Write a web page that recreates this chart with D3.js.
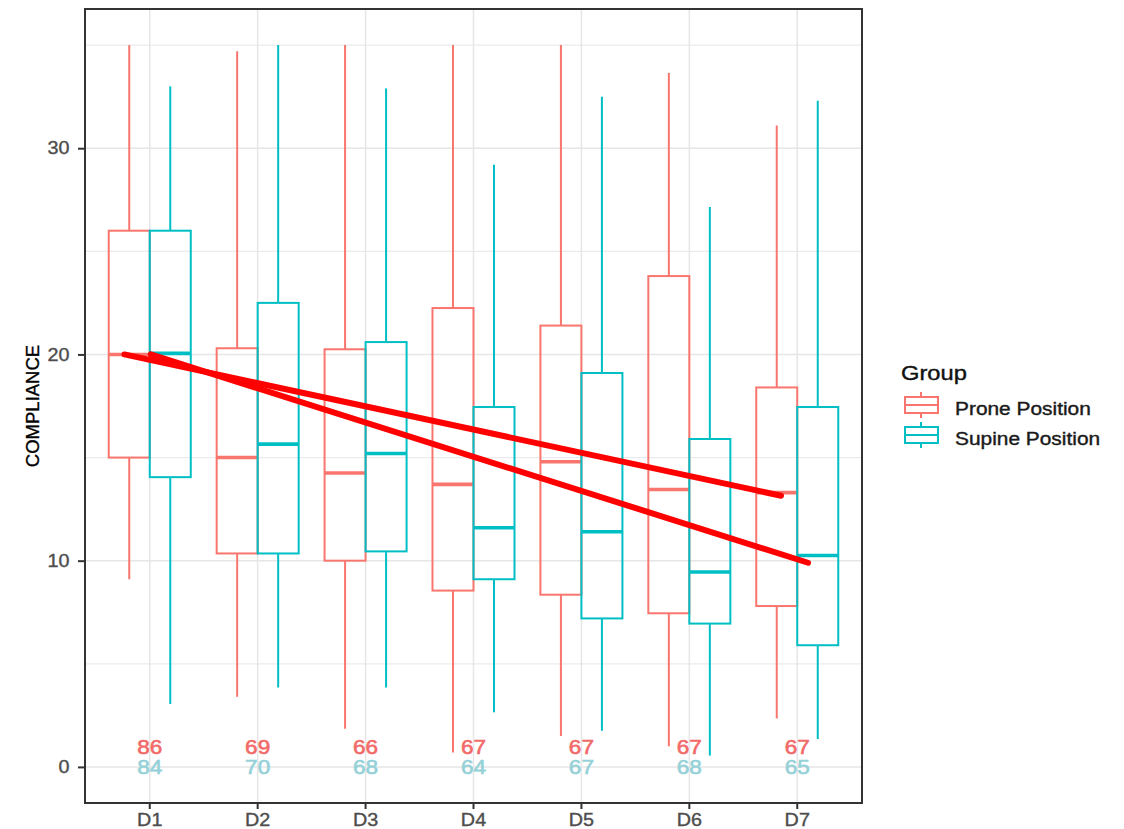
<!DOCTYPE html>
<html>
<head>
<meta charset="utf-8">
<script src="https://cdn.jsdelivr.net/npm/d3@7"></script>
<style>
  html, body { margin: 0; padding: 0; background: #fff; }
  svg { display: block; font-family: "Liberation Sans", Arial, sans-serif; }
</style>
</head>
<body>
<svg id="chart" width="1124" height="829"></svg>
<script>
// Days of ventilation and the two patient positions
const categories = ["D1", "D2", "D3", "D4", "D5", "D6", "D7"];
const groups = ["Prone Position", "Supine Position"];

// Prone position: whisker ends, quartiles and medians of compliance
const proneLow    = [9.1, 3.4, 1.85, 0.7, 1.5, 1.0, 2.35];
const proneQ1     = [15.0, 10.35, 10.0, 8.55, 8.35, 7.45, 7.8];
const proneMedian = [20.0, 15.0, 14.25, 13.7, 14.8, 13.45, 13.3];
const proneQ3     = [26.0, 20.3, 20.25, 22.25, 21.4, 23.8, 18.4];
const proneHigh   = [35.0, 34.7, 35.0, 35.0, 35.0, 33.65, 31.1];

// Supine position
const supineLow    = [3.05, 3.85, 3.85, 2.65, 1.75, 0.55, 1.35];
const supineQ1     = [14.05, 10.35, 10.45, 9.1, 7.2, 6.95, 5.9];
const supineMedian = [20.05, 15.65, 15.2, 11.6, 11.4, 9.45, 10.25];
const supineQ3     = [26.0, 22.5, 20.6, 17.45, 19.1, 15.9, 17.45];
const supineHigh   = [33.0, 35.0, 32.9, 29.2, 32.5, 27.15, 32.3];

// Number of patients per day
const proneCount  = [86, 69, 66, 67, 67, 67, 67];
const supineCount = [84, 70, 68, 64, 67, 68, 65];

// Axis ticks
const yTicks = [0, 10, 20, 30];
const yMinorTicks = [5, 15, 25, 35];

// Trend lines drawn over the boxes: value at D1 and at D7
const trendProne  = [20.0, 13.15];
const trendSupine = [20.0, 9.9];

const colors = { "Prone Position": "#F8766D", "Supine Position": "#00BFC4" };
const countColors = { "Prone Position": "#f26a68", "Supine Position": "#95d1d8" };
const stretch = 1.13;

const svg = d3.select("#chart");
const panel = { left: 85, right: 862, top: 9, bottom: 803 };

// Build the box rows from the arrays
const boxes = [];
categories.forEach((c, i) => {
  boxes.push({ cat: c, group: groups[0], low: proneLow[i], q1: proneQ1[i], med: proneMedian[i], q3: proneQ3[i], high: proneHigh[i] });
  boxes.push({ cat: c, group: groups[1], low: supineLow[i], q1: supineQ1[i], med: supineMedian[i], q3: supineQ3[i], high: supineHigh[i] });
});

const x = d3.scaleBand().domain(categories).range([panel.left, panel.right])
  .paddingInner(0).paddingOuter(0.1);
const step = x.step();
const xSub = d3.scaleBand().domain(groups).range([0, step * 0.76]);
const boxLeft = d => x(d.cat) + step * 0.12 + xSub(d.group);
const boxCenter = d => boxLeft(d) + xSub.bandwidth() / 2;

const dataMin = 0, dataMax = 35, pad = (dataMax - dataMin) * 0.05;
const y = d3.scaleLinear().domain([dataMin - pad, dataMax + pad]).range([panel.bottom, panel.top]);

// Grid lines
const grid = svg.append("g");
grid.selectAll("line.hmin").data(yMinorTicks).join("line")
  .attr("x1", panel.left).attr("x2", panel.right)
  .attr("y1", d => y(d)).attr("y2", d => y(d))
  .attr("stroke", "#ebebeb").attr("stroke-width", 1.2);
grid.selectAll("line.hmaj").data(yTicks).join("line")
  .attr("x1", panel.left).attr("x2", panel.right)
  .attr("y1", d => y(d)).attr("y2", d => y(d))
  .attr("stroke", "#e6e6e6").attr("stroke-width", 1.5);
grid.selectAll("line.v").data(categories).join("line")
  .attr("x1", d => x(d) + step / 2).attr("x2", d => x(d) + step / 2)
  .attr("y1", panel.top).attr("y2", panel.bottom)
  .attr("stroke", "#e6e6e6").attr("stroke-width", 1.5);

// Boxplots
const bg = svg.append("g").selectAll("g").data(boxes).join("g")
  .attr("stroke", d => colors[d.group]).attr("fill", "none");
bg.append("line")
  .attr("x1", boxCenter).attr("x2", boxCenter)
  .attr("y1", d => y(d.q3)).attr("y2", d => y(d.high)).attr("stroke-width", 2);
bg.append("line")
  .attr("x1", boxCenter).attr("x2", boxCenter)
  .attr("y1", d => y(d.q1)).attr("y2", d => y(d.low)).attr("stroke-width", 2);
bg.append("rect")
  .attr("x", boxLeft).attr("width", xSub.bandwidth())
  .attr("y", d => y(d.q3)).attr("height", d => y(d.q1) - y(d.q3))
  .attr("fill", "none").attr("stroke-width", 2);
bg.append("line")
  .attr("x1", boxLeft).attr("x2", d => boxLeft(d) + xSub.bandwidth())
  .attr("y1", d => y(d.med)).attr("y2", d => y(d.med)).attr("stroke-width", 3.6);

// Patient counts near the bottom of the panel
const counts = [];
categories.forEach((c, i) => {
  counts.push({ cat: c, group: groups[0], n: proneCount[i], v: 1 });
  counts.push({ cat: c, group: groups[1], n: supineCount[i], v: 0 });
});
svg.append("g").selectAll("text").data(counts).join("text")
  .attr("transform", d => `translate(${x(d.cat) + step / 2},${y(d.v) + 7.5}) scale(${stretch},1)`)
  .attr("text-anchor", "middle")
  .attr("font-size", 20)
  .attr("fill", d => countColors[d.group])
  .attr("stroke", d => countColors[d.group]).attr("stroke-width", 0.6)
  .text(d => d.n);

// Trend lines from D1 to D7
const trendData = [
  { vals: trendProne, offs: [-0.235, -0.15] },
  { vals: trendSupine, offs: [0.01, 0.1] }
];
const ends = [categories[0], categories[categories.length - 1]];
svg.append("g").selectAll("line").data(trendData).join("line")
  .attr("x1", d => x(ends[0]) + step / 2 + d.offs[0] * step)
  .attr("x2", d => x(ends[1]) + step / 2 + d.offs[1] * step)
  .attr("y1", d => y(d.vals[0]))
  .attr("y2", d => y(d.vals[1]))
  .attr("stroke", "#ff0000").attr("stroke-width", 6).attr("stroke-linecap", "round");

// Panel border
svg.append("rect")
  .attr("x", panel.left).attr("y", panel.top)
  .attr("width", panel.right - panel.left).attr("height", panel.bottom - panel.top)
  .attr("fill", "none").attr("stroke", "#333").attr("stroke-width", 2);

// Axes
const yAxis = svg.append("g").attr("transform", `translate(${panel.left},0)`)
  .call(d3.axisLeft(y).tickValues(yTicks).tickSize(7).tickPadding(5));
const xAxis = svg.append("g").attr("transform", `translate(0,${panel.bottom})`)
  .call(d3.axisBottom(x).tickSize(6).tickPadding(5));
[yAxis, xAxis].forEach(a => {
  a.select(".domain").remove();
  a.selectAll(".tick line").attr("stroke", "#333").attr("stroke-width", 2);
  a.selectAll(".tick text").attr("fill", "#4d4d4d").attr("font-size", 17.5)
    .attr("stroke", "#4d4d4d").attr("stroke-width", 0.35)
    .attr("font-family", "Liberation Sans, Arial, sans-serif");
});
yAxis.selectAll(".tick text").attr("transform", `scale(${stretch},1)`).attr("dx", "-0.1em");
xAxis.selectAll(".tick text").attr("transform", `scale(${stretch},1)`);

// Axis title
svg.append("text")
  .attr("transform", `translate(39,${(panel.top + panel.bottom) / 2}) rotate(-90)`)
  .attr("text-anchor", "middle")
  .attr("font-size", 18.5).attr("fill", "#000")
  .attr("stroke", "#000").attr("stroke-width", 0.35)
  .text("COMPLIANCE");

// Legend
const legend = svg.append("g").attr("transform", "translate(901,0)");
legend.append("text")
  .attr("transform", `translate(0,380) scale(${stretch},1)`)
  .attr("font-size", 21).attr("fill", "#111")
  .attr("stroke", "#111").attr("stroke-width", 0.4)
  .text("Group");
const keys = legend.selectAll("g.key").data(groups).join("g")
  .attr("transform", (d, i) => `translate(0,${405 + i * 30})`);
keys.append("line").attr("x1", 20).attr("x2", 20).attr("y1", -13).attr("y2", 13)
  .attr("stroke", d => colors[d]).attr("stroke-width", 2);
keys.append("rect").attr("x", 4).attr("y", -8).attr("width", 33).attr("height", 16)
  .attr("fill", "#fff").attr("stroke", d => colors[d]).attr("stroke-width", 2);
keys.append("line").attr("x1", 4).attr("x2", 37).attr("y1", 0).attr("y2", 0)
  .attr("stroke", d => colors[d]).attr("stroke-width", 2);
keys.append("text")
  .attr("transform", `translate(54,9.5) scale(${stretch},1)`)
  .attr("font-size", 18.5).attr("fill", "#1a1a1a")
  .attr("stroke", "#1a1a1a").attr("stroke-width", 0.4)
  .text(d => d);
</script>
</body>
</html>
